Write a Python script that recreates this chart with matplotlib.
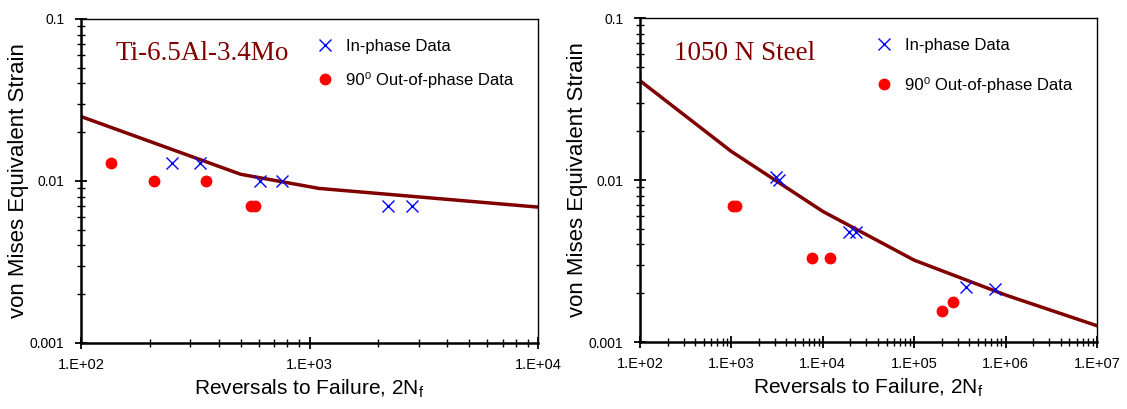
import math
import matplotlib
matplotlib.use("Agg")
import matplotlib.pyplot as plt
from matplotlib.ticker import LogLocator, FixedLocator, FixedFormatter, NullFormatter

plt.rcParams['font.family'] = ['Liberation Sans', 'DejaVu Sans']

# ---- Ti-6.5Al-3.4Mo ----
ti_line_x = [100, 500, 1100, 10000]
ti_line_y = [0.025, 0.011, 0.009, 0.0069]
ti_in_x = [250, 332, 610, 760, 2200, 2800]
ti_in_y = [0.013, 0.013, 0.010, 0.010, 0.007, 0.007]
ti_out_x = [135, 209, 354, 552, 577]
ti_out_y = [0.013, 0.010, 0.010, 0.007, 0.007]

# ---- 1050 N Steel ----
st_line_x = [100, 1000, 10000, 100000, 1000000, 10000000]
st_line_y = [0.041, 0.015, 0.0064, 0.0032, 0.00195, 0.00126]
st_in_x = [3100, 3300, 19500, 23000, 370000, 760000]
st_in_y = [0.0104, 0.0100, 0.0048, 0.0048, 0.0022, 0.00212]
st_out_x = [1050, 1130, 7600, 11900, 203000, 265000]
st_out_y = [0.0069, 0.0069, 0.0033, 0.0033, 0.00156, 0.00176]

y_ticks = [0.001, 0.01, 0.1]
y_labels = ['0.001', '0.01', '0.1']

LINE_C = '#800000'

fig = plt.figure(figsize=(11.27, 4.09), dpi=100)
ax1 = fig.add_axes([81/1127, 1-343/409, 457/1127, 324/409])
ax2 = fig.add_axes([640/1127, 1-342/409, 457/1127, 324/409])

def style(ax, xmin, xmax, title, tx, ty, leg_anchor, spacing):
    ax.set_xscale('log'); ax.set_yscale('log')
    ax.set_xlim(xmin, xmax); ax.set_ylim(0.001, 0.1)
    e0, e1 = int(round(math.log10(xmin))), int(round(math.log10(xmax)))
    xt = [10.0**e for e in range(e0, e1 + 1)]
    ax.xaxis.set_major_locator(FixedLocator(xt))
    ax.xaxis.set_major_formatter(FixedFormatter(['1.E+%02d' % e for e in range(e0, e1 + 1)]))
    ax.xaxis.set_minor_locator(LogLocator(base=10, subs=range(2, 10)))
    ax.xaxis.set_minor_formatter(NullFormatter())
    ax.yaxis.set_major_locator(FixedLocator(y_ticks))
    ax.yaxis.set_major_formatter(FixedFormatter(y_labels))
    ax.yaxis.set_minor_locator(LogLocator(base=10, subs=range(2, 10)))
    ax.yaxis.set_minor_formatter(NullFormatter())
    ax.tick_params(which='major', direction='inout', length=8, width=1.3, labelsize=10.5)
    ax.tick_params(which='minor', direction='inout', length=5.5, width=1.0)
    ax.tick_params(axis='x', which='both', top=False)
    ax.tick_params(axis='y', which='both', right=False)
    ax.tick_params(axis='x', which='major', pad=7)
    ax.tick_params(axis='y', which='major', pad=8, labelsize=10)
    for s in ['left', 'bottom']:
        ax.spines[s].set_linewidth(1.8)
    for s in ['top', 'right']:
        ax.spines[s].set_linewidth(1.0)
    ax.set_xlabel('Reversals to Failure, 2N$_\\mathregular{f}$', fontsize=15, labelpad=4)
    ax.set_ylabel('von Mises Equivalent Strain', fontsize=16, labelpad=0.5)
    ax.text(tx, ty, title, transform=ax.transAxes, family='Liberation Serif',
            fontsize=19.5, color=LINE_C, va='baseline', ha='left')
    ax.legend(loc='upper left', bbox_to_anchor=leg_anchor, frameon=False,
              fontsize=12, handlelength=1.0, handletextpad=0.8,
              labelspacing=spacing, borderaxespad=0)

ax1.plot(ti_line_x, ti_line_y, color=LINE_C, lw=2.5, zorder=2)
ax1.plot(ti_in_x, ti_in_y, 'x', color='blue', ms=8.5, mew=1.0, ls='none', label='In-phase Data', zorder=3)
ax1.plot(ti_out_x, ti_out_y, 'o', color='red', ms=7.5, mec='red', ls='none', label='90⁰ Out-of-phase Data', zorder=3)
style(ax1, 100, 10000, 'Ti-6.5Al-3.4Mo', 0.075, 0.875, (0.5, 0.96), 1.08)

ax2.plot(st_line_x, st_line_y, color=LINE_C, lw=2.5, zorder=2)
ax2.plot(st_in_x, st_in_y, 'x', color='blue', ms=8.5, mew=1.0, ls='none', label='In-phase Data', zorder=3)
ax2.plot(st_out_x, st_out_y, 'o', color='red', ms=7.5, mec='red', ls='none', label='90⁰ Out-of-phase Data', zorder=3)
style(ax2, 100, 10000000, '1050 N Steel', 0.075, 0.87, (0.5, 0.96), 1.44)

fig.savefig('out.png', dpi=100)
